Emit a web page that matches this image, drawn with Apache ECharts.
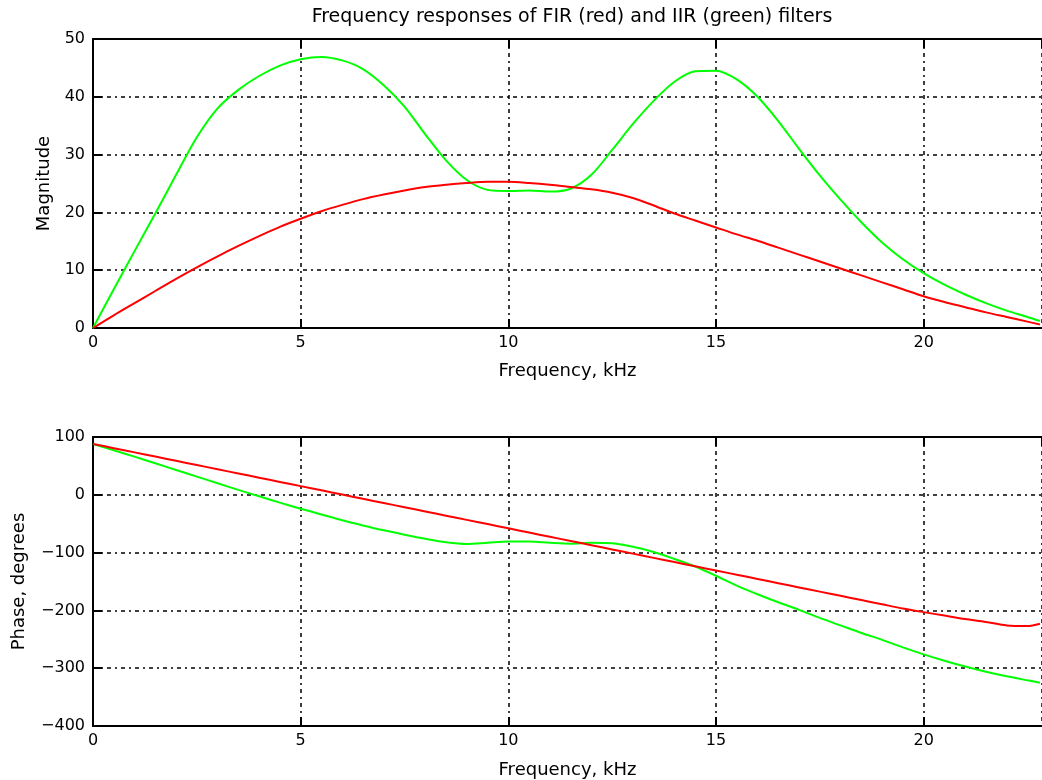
<!DOCTYPE html>
<html>
<head>
<meta charset="utf-8">
<script src="https://cdn.jsdelivr.net/npm/echarts@6/dist/echarts.min.js"></script>
<style>
html,body{margin:0;padding:0;background:#fff;}
#chart{width:1042px;height:780px;}
</style>
</head>
<body>
<div id="chart"></div>
<script>
// ---- data (kHz) ----
const freq = [0,0.5,1,1.5,2,2.5,3,3.5,4,4.5,5,5.5,6,6.5,7,7.5,8,8.5,9,9.5,10,10.5,11,11.5,12,12.5,13,13.5,14,14.5,15,15.5,16,16.5,17,17.5,18,18.5,19,19.5,20,20.5,21,21.5,22,22.5,22.8];
const magFIR = [0,2.2,4.3,6.4,8.5,10.5,12.4,14.2,15.9,17.5,18.9,20.2,21.3,22.3,23.1,23.8,24.4,24.8,25.1,25.3,25.3,25.1,24.8,24.4,24.0,23.4,22.5,21.2,19.8,18.6,17.4,16.2,15.1,13.9,12.7,11.5,10.3,9.1,7.9,6.7,5.5,4.5,3.6,2.7,1.9,1.1,0.6];
const magIIR = [0,6.7,13.3,19.8,26.5,33.0,38.0,41.2,43.6,45.4,46.5,46.9,46.3,44.8,42.0,38.3,33.5,29.0,25.6,23.9,23.7,23.8,23.6,24.1,26.5,30.8,35.3,39.3,42.6,44.4,44.5,43.0,40.0,35.8,31.0,26.4,22.2,18.3,14.8,11.9,9.5,7.5,5.8,4.3,3.0,1.9,1.2];
const phaseFIR = [88,80.7,73.4,66.1,58.8,51.5,44.2,36.9,29.6,22.3,15,7.7,0.4,-6.9,-14.2,-21.5,-28.8,-36.1,-43.4,-50.7,-58,-65.3,-72.6,-79.9,-87.2,-94.5,-101.8,-109.1,-116.4,-123.7,-131,-138.3,-145.6,-152.9,-160.2,-167.5,-174.8,-182.1,-189.4,-196.7,-203,-209,-215,-220,-226,-227,-223];
const phaseIIR = [88,77,66,54.5,43,31.5,20,8.5,-2.5,-13.5,-24,-34,-44,-53,-61.5,-69,-76,-82,-85,-83,-81,-81,-83,-84.5,-83,-84,-90,-99,-111,-124,-140,-157,-172,-186,-199,-213,-226,-239,-251,-264,-276,-287,-297,-306,-314,-321,-325];
const magTicks = {min:0, max:50, interval:10};
const phaseTicks = {min:-400, max:100, interval:100};
const xTicks = {min:0, max:22.85, interval:5};

const titleText = 'Frequency responses of FIR (red) and IIR (green) filters';
const xName = 'Frequency, kHz';
const magName = 'Magnitude';
const phaseName = 'Phase, degrees';

const pairs = (xs, ys) => xs.map((x, i) => [x, ys[i]]);

const FONT = 'DejaVu Sans';
const gridLine = {show:true, lineStyle:{color:'#000', width:1.5, type:[4,4,2,4]}};
const axisLineS = {show:true, onZero:false, lineStyle:{color:'#000', width:2}};
const tickS = {show:true, inside:true, length:9, lineStyle:{color:'#000', width:2}};
const labelS = {color:'#000', fontFamily:FONT, fontSize:16,
  formatter: v => String(v).replace('-', '\u2212')};
const nameS = {color:'#000', fontFamily:FONT, fontSize:18};

function xAxisMain(gi, gap){
  return {type:'value', gridIndex:gi, position:'bottom', min:xTicks.min, max:xTicks.max, interval:xTicks.interval,
    name:xName, nameLocation:'middle', nameGap:gap, nameTextStyle:nameS,
    axisLine:axisLineS, axisTick:tickS, splitLine:gridLine,
    axisLabel:Object.assign({}, labelS, {margin:7, showMaxLabel:false,
      formatter: v => (Math.abs(v % 5) < 1e-9 ? String(v) : '')})};
}
function xAxisTop(gi){
  return {type:'value', gridIndex:gi, position:'top', min:xTicks.min, max:xTicks.max, interval:xTicks.interval,
    axisLine:axisLineS, axisTick:tickS, splitLine:{show:false}, axisLabel:{show:false}};
}
function yAxisMain(gi, t, name, gap){
  return {type:'value', gridIndex:gi, position:'left', min:t.min, max:t.max, interval:t.interval,
    name:name, nameLocation:'middle', nameGap:gap, nameTextStyle:nameS,
    axisLine:axisLineS, axisTick:tickS, splitLine:gridLine,
    axisLabel:Object.assign({}, labelS, {margin:8})};
}

const chart = echarts.init(document.getElementById('chart'), null, {renderer:'canvas'});
chart.setOption({
  backgroundColor:'#fff',
  animation:false,
  title:{text:titleText, left:567, textAlign:'center', top:3,
    textStyle:{color:'#000', fontFamily:FONT, fontSize:19, fontWeight:'normal'}},
  grid:[
    {left:93, right:0, top:39, height:289},
    {left:93, right:0, top:437, height:290}
  ],
  xAxis:[xAxisMain(0, 34), xAxisTop(0), xAxisMain(1, 35), xAxisTop(1)],
  yAxis:[yAxisMain(0, magTicks, magName, 39), yAxisMain(1, phaseTicks, phaseName, 65)],
  series:[
    {type:'line', xAxisIndex:0, yAxisIndex:0, data:pairs(freq, magIIR), showSymbol:false, smooth:0.3,
      lineStyle:{color:'#00ff00', width:2}, itemStyle:{color:'#00ff00'}},
    {type:'line', xAxisIndex:0, yAxisIndex:0, data:pairs(freq, magFIR), showSymbol:false, smooth:0.3,
      lineStyle:{color:'#ff0000', width:2}, itemStyle:{color:'#ff0000'}},
    {type:'line', xAxisIndex:2, yAxisIndex:1, data:pairs(freq, phaseIIR), showSymbol:false, smooth:0.3,
      lineStyle:{color:'#00ff00', width:2}, itemStyle:{color:'#00ff00'}},
    {type:'line', xAxisIndex:2, yAxisIndex:1, data:pairs(freq, phaseFIR), showSymbol:false, smooth:0.3,
      lineStyle:{color:'#ff0000', width:2}, itemStyle:{color:'#ff0000'}}
  ]
});
</script>
</body>
</html>
